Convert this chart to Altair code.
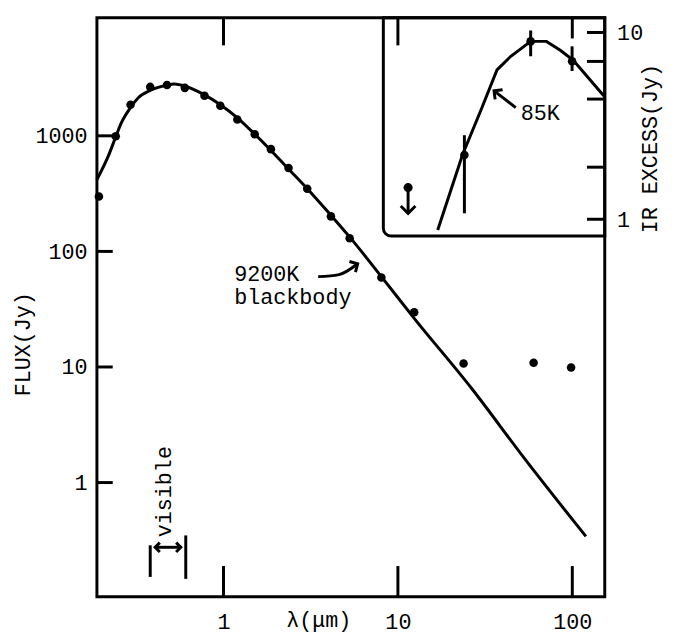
import altair as alt
import pandas as pd

# ---------------- data ----------------
# photometric points (main panel)
phot_wl = [0.193, 0.241, 0.293, 0.380, 0.474, 0.600, 0.778, 0.959, 1.20, 1.51,
           1.87, 2.36, 3.02, 4.13, 5.29, 8.04, 12.4, 23.8, 60.0, 98.4]
phot_flux = [298, 991, 1860, 2650, 2755, 2600, 2220, 1823, 1384, 1030,
             767, 527, 349, 201, 130, 59.4, 29.8, 10.7, 10.9, 9.9]

# 9200K blackbody curve (traced)
bb_wl = [0.1878, 0.2196, 0.2405, 0.2602, 0.2926, 0.3247, 0.3847, 0.4803, 0.5195,
         0.5690, 0.7783, 0.9592, 1.197, 1.514, 1.842, 2.299, 3.023, 4.135, 5.298,
         8.04, 12.37, 26.7, 52.6, 119.7]
bb_flux = [417, 681, 971, 1305, 1752, 2134, 2497, 2755, 2810,
           2755, 2263, 1859, 1439, 1030, 766, 538, 349, 205, 133,
           60.5, 26.5, 6.42, 1.652, 0.342]

# inset: IR excess
ex_wl = [24.06, 57.7, 99.7]
ex_flux = [2.208, 8.96, 7.02]
ex_lo = [1.076, 7.46, 6.22]
ex_hi = [2.818, 10.25, 8.43]
lim_wl = [11.44]
lim_flux = [1.477]
lim_end = [1.076]

# 85K curve (traced)
k85_wl = [16.92, 23.44, 30.03, 37.0, 44.4, 57.7, 71.1, 85.3, 101.0, 119.7, 151.4]
k85_flux = [0.875, 2.208, 3.87, 6.30, 7.46, 8.96, 8.96, 8.03, 7.11, 5.92, 4.58]

# axes
x_ticks = [1, 10, 100]
y_ticks = [1, 10, 100, 1000]
inset_ticks = [1, 1.9, 4.4, 7.0, 10]
inset_labels = [1, 10]

X_DOMAIN = [0.188, 153.5]
Y_DOMAIN = [0.103, 10520]
INSET_DOMAIN = [0.813, 12.0]
INSET_LEFT = 8.25

# annotations
visible_bars = pd.DataFrame({"x": [0.380, 0.6075], "y": [0.2866, 0.349], "y2": [0.1527, 0.1468]})
visible_arrow = pd.DataFrame({"x": [0.4055], "x2": [0.569], "y": [0.2754]})
visible_heads = pd.DataFrame({"x": [0.4055, 0.569], "y": [0.2754, 0.2754], "a": [270, 90]})
bb_label_x = [1.151, 1.151]
bb_label_y = [56.0, 34.9]
bb_label_t = ["9200K", "blackbody"]
bb_arrow_wl = [3.49, 4.59, 5.88]
bb_arrow_fl = [60.5, 63.0, 78.2]
k_arrow_wl = [47.4, 35.6]
k_arrow_fl = [3.96, 4.87]

# ---------------- chart ----------------
W, H = 514, 586
INSET_H = 221
FONT = "Liberation Mono"
FS = 22
LW = 3

xs = alt.Scale(type="log", domain=X_DOMAIN, nice=False)
ys = alt.Scale(type="log", domain=Y_DOMAIN, nice=False)
iscale = alt.Scale(type="log", domain=INSET_DOMAIN, nice=False, range=[INSET_H, 0])

x_axis = alt.Axis(values=x_ticks, format="d", ticks=False, domain=False, grid=False,
                  labelFont=FONT, labelFontSize=FS, labelPadding=15, labelColor="black",
                  title="λ(μm)", titleFont=FONT, titleFontSize=FS, titleFontWeight="normal",
                  titleColor="black", titleX=224, titleY=30, titleAlign="center",
                  titleBaseline="alphabetic")
y_axis = alt.Axis(values=y_ticks, format="d", ticks=False, domain=False, grid=False,
                  labelFont=FONT, labelFontSize=FS, labelPadding=10, labelColor="black",
                  title="FLUX(Jy)", titleFont=FONT, titleFontSize=FS, titleFontWeight="normal",
                  titleColor="black", titleX=-75, titleY=330, titleAngle=270,
                  titleAlign="center", titleBaseline="middle")
i_axis = alt.Axis(orient="right", values=inset_labels, format="d", ticks=False, domain=False,
                  grid=False, labelFont=FONT, labelFontSize=FS, labelPadding=12,
                  labelColor="black", title="IR EXCESS(Jy)", titleFont=FONT,
                  titleFontSize=FS, titleFontWeight="normal", titleColor="black",
                  titleX=45, titleY=132, titleAngle=270, titleAlign="center",
                  titleBaseline="middle")


def X(f):
    return alt.X(f, type="quantitative", scale=xs, axis=x_axis)


def Y(f):
    return alt.Y(f, type="quantitative", scale=ys, axis=y_axis)


def IY(f):
    return alt.Y(f, type="quantitative", scale=iscale, axis=i_axis)


ARROW = "M -1 1 L 0 0 L 1 1"

df_phot = pd.DataFrame({"wl": phot_wl, "flux": phot_flux})
df_bb = pd.DataFrame({"wl": bb_wl, "flux": bb_flux})

bb_line = alt.Chart(df_bb).mark_line(color="black", strokeWidth=LW, interpolate="monotone").encode(
    x=X("wl"), y=Y("flux"))
phot = alt.Chart(df_phot).mark_circle(color="black", size=75, opacity=1).encode(
    x=X("wl"), y=Y("flux"))

left_ticks = alt.Chart(pd.DataFrame({"v": y_ticks})).mark_rule(color="black", strokeWidth=LW).encode(
    y=Y("v"), x=alt.value(0), x2=alt.value(16))
bottom_ticks = alt.Chart(pd.DataFrame({"v": x_ticks})).mark_rule(color="black", strokeWidth=LW).encode(
    x=X("v"), y=alt.value(H - 31), y2=alt.value(H))
top_ticks = alt.Chart(pd.DataFrame({"v": x_ticks[:2]})).mark_rule(color="black", strokeWidth=LW).encode(
    x=X("v"), y=alt.value(0), y2=alt.value(28))
top_tick_100 = alt.Chart(pd.DataFrame({"v": x_ticks[2:]})).mark_rule(color="black", strokeWidth=LW).encode(
    x=X("v"), y=alt.value(0), y2=alt.value(21))

vis_bars = alt.Chart(visible_bars).mark_rule(color="black", strokeWidth=LW).encode(
    x=X("x"), y=Y("y"), y2="y2")
vis_arrow = alt.Chart(visible_arrow).mark_rule(color="black", strokeWidth=LW).encode(
    x=X("x"), x2="x2", y=Y("y"))
vis_heads = alt.Chart(visible_heads).mark_point(shape=ARROW, filled=False, color="black",
                                                 strokeWidth=LW, size=90, opacity=1).encode(
    x=X("x"), y=Y("y"), angle=alt.Angle("a:Q", scale=None))
vis_text = alt.Chart(pd.DataFrame({"x": [0.4995], "y": [0.336], "t": ["visible"]})).mark_text(
    font=FONT, fontSize=FS, angle=270, align="left", baseline="alphabetic", color="black").encode(
    x=X("x"), y=Y("y"), text="t:N")

bb_text = alt.Chart(pd.DataFrame({"x": bb_label_x, "y": bb_label_y, "t": bb_label_t})).mark_text(
    font=FONT, fontSize=FS, align="left", baseline="alphabetic", color="black").encode(
    x=X("x"), y=Y("y"), text="t:N")
bb_arrow = alt.Chart(pd.DataFrame({"x": bb_arrow_wl, "y": bb_arrow_fl, "o": [0, 1, 2]})).mark_line(
    color="black", strokeWidth=LW, interpolate="monotone").encode(
    x=X("x"), y=Y("y"), order="o:Q")
bb_head = alt.Chart(pd.DataFrame({"x": bb_arrow_wl[-1:], "y": bb_arrow_fl[-1:]})).mark_point(
    shape=ARROW, filled=False, color="black", strokeWidth=LW, size=150, angle=60, opacity=1).encode(
    x=X("x"), y=Y("y"))

main = alt.layer(bb_line, phot, left_ticks, bottom_ticks, top_ticks, top_tick_100,
                 vis_bars, vis_arrow, vis_heads, vis_text, bb_text, bb_arrow, bb_head)

# ---------------- inset ----------------
inset_box = alt.Chart(pd.DataFrame({"x": [INSET_LEFT], "x2": [X_DOMAIN[1]],
                                    "y": [INSET_DOMAIN[0]], "y2": [INSET_DOMAIN[1]]})).mark_rect(
    fill="transparent", stroke="black", strokeWidth=LW, cornerRadiusBottomLeft=8).encode(
    x=X("x"), x2="x2", y=IY("y"), y2="y2")
df_k = pd.DataFrame({"wl": k85_wl, "flux": k85_flux})
k_line = alt.Chart(df_k).mark_line(color="black", strokeWidth=LW).encode(x=X("wl"), y=IY("flux"))
df_ex = pd.DataFrame({"wl": ex_wl, "flux": ex_flux, "lo": ex_lo, "hi": ex_hi})
ex_err = alt.Chart(df_ex).mark_rule(color="black", strokeWidth=LW).encode(
    x=X("wl"), y=IY("lo"), y2="hi")
ex_pts = alt.Chart(df_ex).mark_circle(color="black", size=75, opacity=1).encode(
    x=X("wl"), y=IY("flux"))
df_lim = pd.DataFrame({"wl": lim_wl, "flux": lim_flux, "end": lim_end})
lim_pt = alt.Chart(df_lim).mark_circle(color="black", size=85, opacity=1).encode(
    x=X("wl"), y=IY("flux"))
lim_line = alt.Chart(df_lim).mark_rule(color="black", strokeWidth=LW).encode(
    x=X("wl"), y=IY("flux"), y2="end")
lim_head = alt.Chart(df_lim).mark_point(shape=ARROW, filled=False, color="black", strokeWidth=LW,
                                        size=220, angle=180, opacity=1).encode(
    x=X("wl"), y=IY("end"))
k_text = alt.Chart(pd.DataFrame({"x": [50.6], "y": [3.38], "t": ["85K"]})).mark_text(
    font=FONT, fontSize=FS, align="left", baseline="alphabetic", color="black").encode(
    x=X("x"), y=IY("y"), text="t:N")
k_arrow = alt.Chart(pd.DataFrame({"x": k_arrow_wl, "y": k_arrow_fl, "o": [0, 1]})).mark_line(
    color="black", strokeWidth=LW).encode(x=X("x"), y=IY("y"), order="o:Q")
k_head = alt.Chart(pd.DataFrame({"x": k_arrow_wl[-1:], "y": k_arrow_fl[-1:]})).mark_point(
    shape=ARROW, filled=False, color="black", strokeWidth=LW, size=150, angle=308, opacity=1).encode(
    x=X("x"), y=IY("y"))
right_ticks = alt.Chart(pd.DataFrame({"v": inset_ticks})).mark_rule(color="black", strokeWidth=LW).encode(
    y=IY("v"), x=alt.value(W - 18), x2=alt.value(W))

inset = alt.layer(inset_box, k_line, ex_err, ex_pts, lim_pt, lim_line, lim_head,
                  k_text, k_arrow, k_head, right_ticks)

chart = alt.layer(main, inset).resolve_scale(y="independent").properties(
    width=W, height=H,
    padding={"left": 90, "top": 6, "right": 63, "bottom": 36},
    autosize=alt.AutoSizeParams(type="none"),
    background="white",
).configure_view(stroke="black", strokeWidth=LW)

chart.save("out.html", embed_options={"renderer": "svg", "actions": False})
